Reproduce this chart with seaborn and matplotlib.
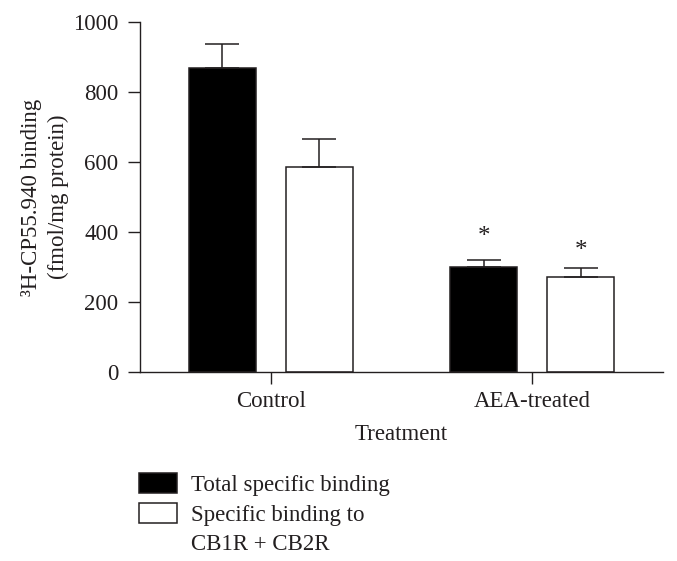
import numpy as np
import pandas as pd
import matplotlib
matplotlib.use("Agg")
import matplotlib.pyplot as plt
from matplotlib.patches import Rectangle
from matplotlib.container import BarContainer
import seaborn as sns

# ---- data ----
treatments = ["Control", "AEA-treated"]
series = ["Total specific binding", "Specific binding to CB1R + CB2R"]
legend_lines = ["Total specific binding", "Specific binding to", "CB1R + CB2R"]
total_binding = [869, 300]
total_sem = [68, 20]
cb_binding = [586, 271]
cb_sem = [80, 26]
star_labels = [["", "*"], ["", "*"]]
y_ticks = [0, 200, 400, 600, 800, 1000]

df = pd.DataFrame({
    "Treatment": treatments * 2,
    "Series": [series[0]] * 2 + [series[1]] * 2,
    "Binding": total_binding + cb_binding,
})
sems = [total_sem, cb_sem]

sns.set_theme(style="ticks")
plt.rcParams["font.family"] = ["Liberation Serif", "DejaVu Serif"]
ink = "#231f20"
plt.rcParams.update({
    "text.color": ink, "axes.labelcolor": ink, "xtick.color": ink,
    "ytick.color": ink, "axes.edgecolor": ink,
})
FS = 16.5

fig = plt.figure(figsize=(6.77, 5.61), dpi=100)
ax = fig.add_axes([140 / 677, 1 - 372 / 561, (663 - 140) / 677, (372 - 22) / 561])

sns.barplot(data=df, x="Treatment", y="Binding", hue="Series",
            order=treatments, hue_order=series,
            palette={series[0]: "black", series[1]: "white"},
            edgecolor=ink, linewidth=1.1, width=0.74, gap=0.31,
            errorbar=None, legend=False, ax=ax)

bar_containers = [c for c in ax.containers if isinstance(c, BarContainer)]
star_offsets = [12.2, 7.9]
for ci, cont in enumerate(bar_containers):
    xs = [p.get_x() + p.get_width() / 2 for p in cont.patches]
    hs = [p.get_height() for p in cont.patches]
    ax.errorbar(xs, hs, yerr=[np.zeros(len(hs)), sems[ci]], fmt="none",
                ecolor=ink, elinewidth=1.1, capsize=11.9, capthick=1.1, zorder=3)
    for j, (x, h) in enumerate(zip(xs, hs)):
        lab = star_labels[ci][j]
        if lab:
            ax.annotate(lab, (x, h + sems[ci][j]), xytext=(0, star_offsets[ci]),
                        textcoords="offset points", ha="center", va="baseline",
                        fontsize=18, color=ink)

ax.set_xlim(-0.5, 1.5)
ax.set_ylim(0, 1000)
ax.set_yticks(y_ticks)
sns.despine(ax=ax)
for s in ["left", "bottom"]:
    ax.spines[s].set_linewidth(1.0)
ax.tick_params(axis="both", length=8.5, width=1.0, labelsize=FS)
ax.tick_params(axis="y", pad=7)
ax.tick_params(axis="x", pad=5)
ax.set_xlabel("Treatment", fontsize=FS, labelpad=9)
ax.set_ylabel("³H-CP55.940 binding\n(fmol/mg protein)", fontsize=FS,
              linespacing=1.4)
ax.yaxis.set_label_coords(-0.135, 0.5)

h0 = bar_containers[0].patches[0]
h1 = bar_containers[1].patches[0]
blank = Rectangle((0, 0), 1, 1, facecolor="none", edgecolor="none")
leg = fig.legend([h0, h1, blank], legend_lines, loc="upper left",
                 bbox_to_anchor=(139 / 677, 1 - 473 / 561),
                 frameon=False, fontsize=FS, handlelength=1.66,
                 handleheight=0.96, handletextpad=0.6, labelspacing=0.3,
                 borderpad=0, borderaxespad=0)

fig.patches.append(Rectangle((0, 0), 1, 9 / 561, transform=fig.transFigure,
                             facecolor="white", edgecolor="none", zorder=10))

fig.savefig("out.png", dpi=100)
